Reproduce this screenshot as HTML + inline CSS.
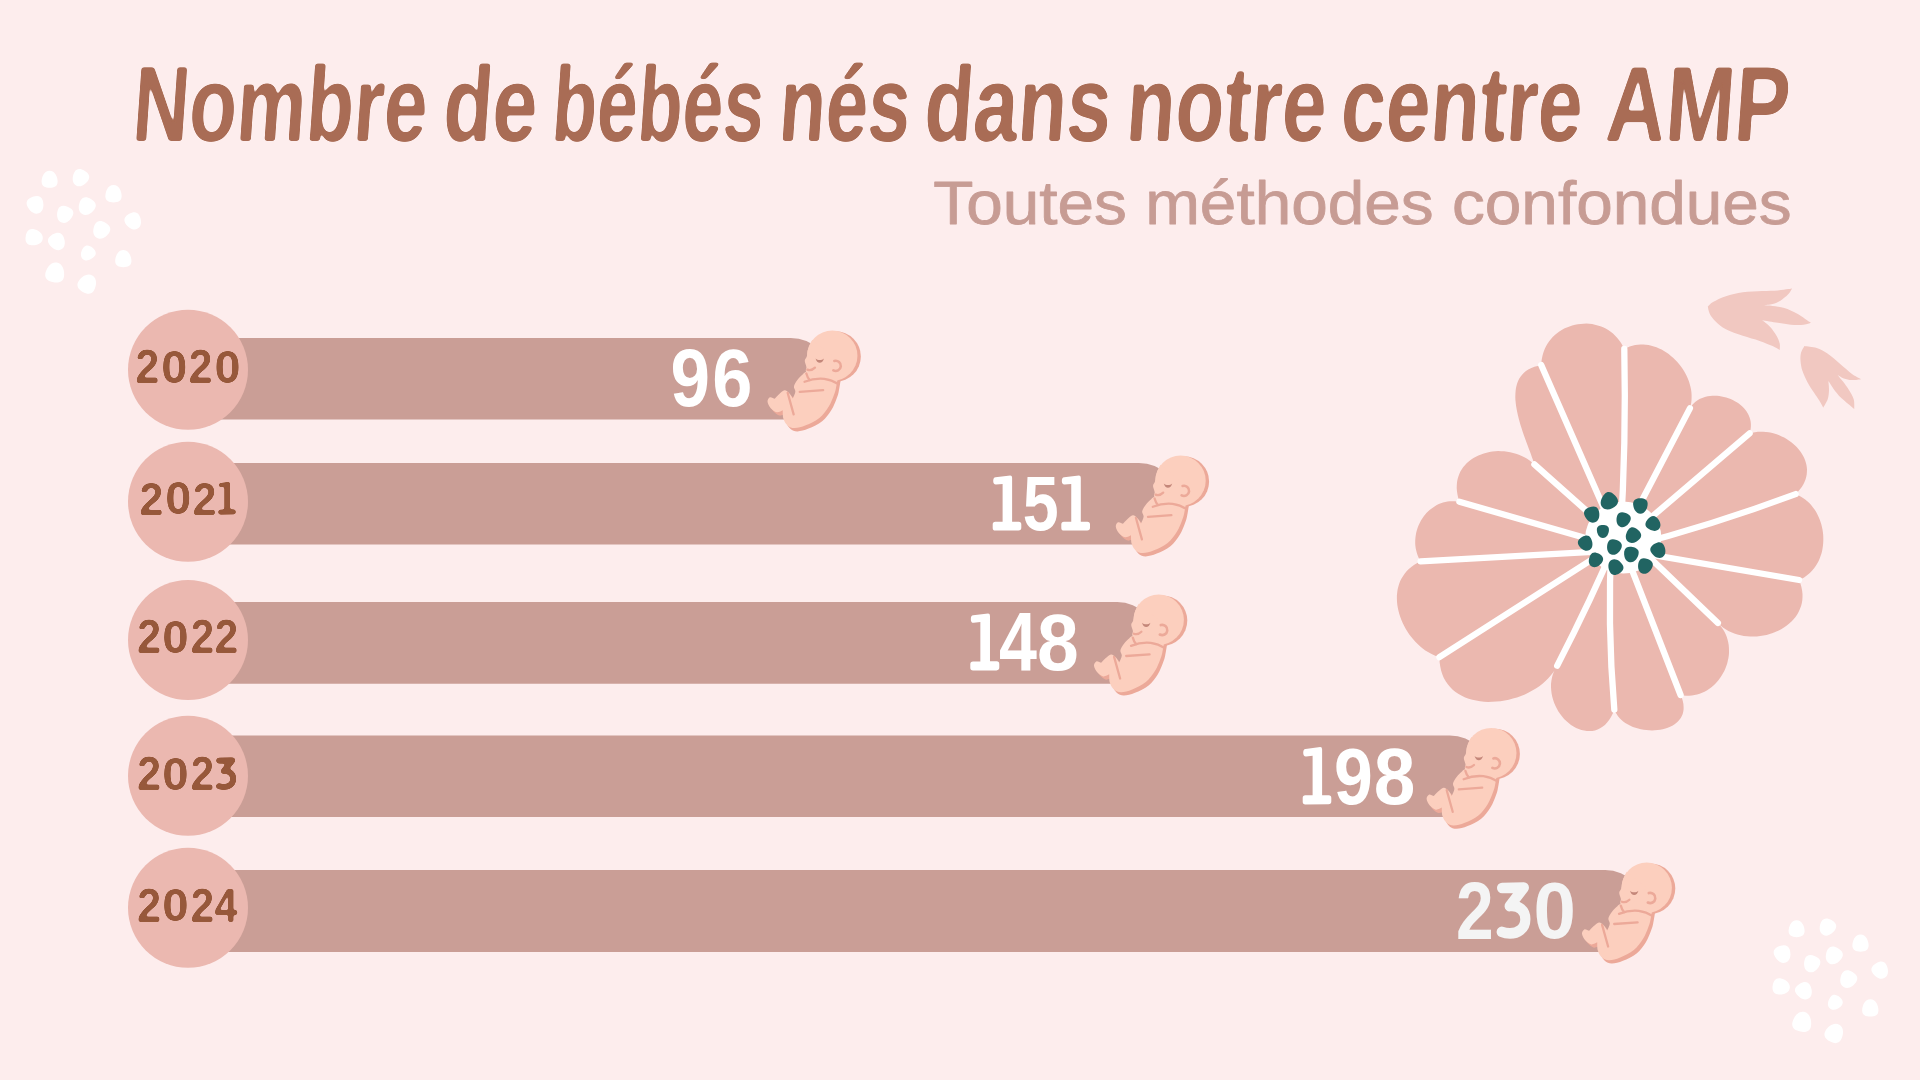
<!DOCTYPE html>
<html><head><meta charset="utf-8"><style>
html,body{margin:0;padding:0;width:1920px;height:1080px;overflow:hidden;background:#fdeded;}
svg{display:block;}
</style></head><body>
<svg width="1920" height="1080" viewBox="0 0 1920 1080">
<rect width="1920" height="1080" fill="#fdeded"/>
<defs><g id="baby">
<g fill="#eca999" transform="translate(1.9 -0.5)"><circle cx="65.0" cy="27.0" r="25.2"/></g>
<g fill="#eca999" transform="translate(1.3 2.0)"><path d="M70.50 49.00 C70.18 50.83 69.28 57.00 68.60 60.00 C67.92 63.00 67.58 64.03 66.40 67.00 C65.22 69.97 63.88 74.08 61.50 77.80 C59.12 81.52 55.93 86.17 52.10 89.30 C48.27 92.43 42.60 94.92 38.50 96.60 C34.40 98.28 30.50 99.33 27.50 99.40 C24.50 99.47 22.38 98.57 20.50 97.00 C18.62 95.43 17.03 92.58 16.20 90.00 C15.37 87.42 15.62 82.92 15.50 81.50 C14.50 81.85 11.50 83.93 9.50 83.60 C7.50 83.27 5.03 81.27 3.50 79.50 C1.97 77.73 0.45 74.82 0.30 73.00 C0.15 71.18 1.42 69.10 2.60 68.60 C3.78 68.10 6.60 69.77 7.40 70.00 C8.13 69.25 10.15 66.90 11.80 65.50 C13.45 64.10 15.60 61.77 17.30 61.60 C19.00 61.43 20.63 63.13 22.00 64.50 C23.37 65.87 24.92 68.92 25.50 69.80 C25.93 68.67 27.90 65.05 28.10 63.00 C28.30 60.95 26.33 59.50 26.70 57.50 C27.07 55.50 28.90 52.92 30.30 51.00 C31.70 49.08 34.30 46.83 35.10 46.00 C35.75 45.50 36.85 43.67 39.00 43.00 C41.15 42.33 44.17 41.83 48.00 42.00 C51.83 42.17 58.25 42.83 62.00 44.00 C65.75 45.17 69.08 48.17 70.50 49.00 Z"/></g>
<g fill="#fccfbe" transform="translate(-1.5 -1.3)"><path d="M70.50 49.00 C70.18 50.83 69.28 57.00 68.60 60.00 C67.92 63.00 67.58 64.03 66.40 67.00 C65.22 69.97 63.88 74.08 61.50 77.80 C59.12 81.52 55.93 86.17 52.10 89.30 C48.27 92.43 42.60 94.92 38.50 96.60 C34.40 98.28 30.50 99.33 27.50 99.40 C24.50 99.47 22.38 98.57 20.50 97.00 C18.62 95.43 17.03 92.58 16.20 90.00 C15.37 87.42 15.62 82.92 15.50 81.50 C14.50 81.85 11.50 83.93 9.50 83.60 C7.50 83.27 5.03 81.27 3.50 79.50 C1.97 77.73 0.45 74.82 0.30 73.00 C0.15 71.18 1.42 69.10 2.60 68.60 C3.78 68.10 6.60 69.77 7.40 70.00 C8.13 69.25 10.15 66.90 11.80 65.50 C13.45 64.10 15.60 61.77 17.30 61.60 C19.00 61.43 20.63 63.13 22.00 64.50 C23.37 65.87 24.92 68.92 25.50 69.80 C25.93 68.67 27.90 65.05 28.10 63.00 C28.30 60.95 26.33 59.50 26.70 57.50 C27.07 55.50 28.90 52.92 30.30 51.00 C31.70 49.08 34.30 46.83 35.10 46.00 C35.75 45.50 36.85 43.67 39.00 43.00 C41.15 42.33 44.17 41.83 48.00 42.00 C51.83 42.17 58.25 42.83 62.00 44.00 C65.75 45.17 69.08 48.17 70.50 49.00 Z"/><circle cx="65.0" cy="27.0" r="25.2"/><path d="M45 11 C44.33 12.50 41.90 17.25 41.00 20.00 C40.10 22.75 40.17 25.58 39.60 27.50 C39.03 29.42 37.83 30.25 37.60 31.50 C37.37 32.75 37.93 33.83 38.20 35.00 C38.47 36.17 39.13 37.25 39.20 38.50 C39.27 39.75 38.13 41.25 38.60 42.50 C39.07 43.75 40.10 45.75 42.00 46.00 C43.90 46.25 48.67 44.33 50.00 44.00 L65.0 27.0 Z"/></g>
<g fill="none" stroke="#eca999" stroke-width="2.3" stroke-linecap="round">
<path d="M65.6 31 A5.1 5.1 0 1 1 64.6 40.4" stroke-width="2.6"/>
<path d="M38.6 39.6 Q42.5 41.2 46.2 37.6"/>
<path d="M35.8 51.8 Q46 47.8 55.5 48.8 Q63 49.8 69.5 54"/>
<path d="M31 61.9 L54.4 60.2"/>
<path d="M18.9 62.8 L24.9 84.4"/>
<path d="M37.6 43.5 Q38.6 47.5 41 50"/>
</g>
<path d="M46.8 28.6 C48 34.2 54 34.2 55.2 28.6 C53 30.6 49 30.6 46.8 28.6 Z" fill="#c4877a"/>
</g></defs>
<g fill="#ffffff"><path d="M0 -0.53 C0.34 -0.53 0.5 -0.14 0.5 0.13 C0.5 0.4 0.28 0.5 0 0.5 C-0.28 0.5 -0.5 0.4 -0.5 0.13 C-0.5 -0.14 -0.34 -0.53 0 -0.53 Z" transform="translate(49.6 179.6) rotate(0) scale(16.00 16.50)"/><path d="M0 -0.53 C0.34 -0.53 0.5 -0.14 0.5 0.13 C0.5 0.4 0.28 0.5 0 0.5 C-0.28 0.5 -0.5 0.4 -0.5 0.13 C-0.5 -0.14 -0.34 -0.53 0 -0.53 Z" transform="translate(80.4 177.9) rotate(210) scale(16.00 16.50)"/><path d="M0 -0.53 C0.34 -0.53 0.5 -0.14 0.5 0.13 C0.5 0.4 0.28 0.5 0 0.5 C-0.28 0.5 -0.5 0.4 -0.5 0.13 C-0.5 -0.14 -0.34 -0.53 0 -0.53 Z" transform="translate(113.5 194.0) rotate(0) scale(16.25 16.75)"/><path d="M0 -0.53 C0.34 -0.53 0.5 -0.14 0.5 0.13 C0.5 0.4 0.28 0.5 0 0.5 C-0.28 0.5 -0.5 0.4 -0.5 0.13 C-0.5 -0.14 -0.34 -0.53 0 -0.53 Z" transform="translate(35.6 204.8) rotate(160) scale(16.49 17.00)"/><path d="M0 -0.53 C0.34 -0.53 0.5 -0.14 0.5 0.13 C0.5 0.4 0.28 0.5 0 0.5 C-0.28 0.5 -0.5 0.4 -0.5 0.13 C-0.5 -0.14 -0.34 -0.53 0 -0.53 Z" transform="translate(64.7 214.4) rotate(200) scale(16.00 16.50)"/><path d="M0 -0.53 C0.34 -0.53 0.5 -0.14 0.5 0.13 C0.5 0.4 0.28 0.5 0 0.5 C-0.28 0.5 -0.5 0.4 -0.5 0.13 C-0.5 -0.14 -0.34 -0.53 0 -0.53 Z" transform="translate(86.7 206.3) rotate(210) scale(16.49 17.00)"/><path d="M0 -0.53 C0.34 -0.53 0.5 -0.14 0.5 0.13 C0.5 0.4 0.28 0.5 0 0.5 C-0.28 0.5 -0.5 0.4 -0.5 0.13 C-0.5 -0.14 -0.34 -0.53 0 -0.53 Z" transform="translate(133.3 221.0) rotate(150) scale(16.00 16.50)"/><path d="M0 -0.53 C0.34 -0.53 0.5 -0.14 0.5 0.13 C0.5 0.4 0.28 0.5 0 0.5 C-0.28 0.5 -0.5 0.4 -0.5 0.13 C-0.5 -0.14 -0.34 -0.53 0 -0.53 Z" transform="translate(101.2 230.0) rotate(210) scale(16.49 17.00)"/><path d="M0 -0.53 C0.34 -0.53 0.5 -0.14 0.5 0.13 C0.5 0.4 0.28 0.5 0 0.5 C-0.28 0.5 -0.5 0.4 -0.5 0.13 C-0.5 -0.14 -0.34 -0.53 0 -0.53 Z" transform="translate(34.0 237.4) rotate(100) scale(16.25 16.75)"/><path d="M0 -0.53 C0.34 -0.53 0.5 -0.14 0.5 0.13 C0.5 0.4 0.28 0.5 0 0.5 C-0.28 0.5 -0.5 0.4 -0.5 0.13 C-0.5 -0.14 -0.34 -0.53 0 -0.53 Z" transform="translate(57.0 241.6) rotate(150) scale(16.25 16.75)"/><path d="M0 -0.53 C0.34 -0.53 0.5 -0.14 0.5 0.13 C0.5 0.4 0.28 0.5 0 0.5 C-0.28 0.5 -0.5 0.4 -0.5 0.13 C-0.5 -0.14 -0.34 -0.53 0 -0.53 Z" transform="translate(87.9 253.3) rotate(220) scale(14.06 14.50)"/><path d="M0 -0.53 C0.34 -0.53 0.5 -0.14 0.5 0.13 C0.5 0.4 0.28 0.5 0 0.5 C-0.28 0.5 -0.5 0.4 -0.5 0.13 C-0.5 -0.14 -0.34 -0.53 0 -0.53 Z" transform="translate(123.3 258.9) rotate(0) scale(16.25 16.75)"/><path d="M0 -0.53 C0.34 -0.53 0.5 -0.14 0.5 0.13 C0.5 0.4 0.28 0.5 0 0.5 C-0.28 0.5 -0.5 0.4 -0.5 0.13 C-0.5 -0.14 -0.34 -0.53 0 -0.53 Z" transform="translate(55.1 272.7) rotate(10) scale(18.91 19.50)"/><path d="M0 -0.53 C0.34 -0.53 0.5 -0.14 0.5 0.13 C0.5 0.4 0.28 0.5 0 0.5 C-0.28 0.5 -0.5 0.4 -0.5 0.13 C-0.5 -0.14 -0.34 -0.53 0 -0.53 Z" transform="translate(87.4 284.0) rotate(30) scale(17.95 18.50)"/></g>
<g fill="#ffffff"><path d="M0 -0.53 C0.34 -0.53 0.5 -0.14 0.5 0.13 C0.5 0.4 0.28 0.5 0 0.5 C-0.28 0.5 -0.5 0.4 -0.5 0.13 C-0.5 -0.14 -0.34 -0.53 0 -0.53 Z" transform="translate(1796.6 928.9) rotate(0) scale(16.00 16.50)"/><path d="M0 -0.53 C0.34 -0.53 0.5 -0.14 0.5 0.13 C0.5 0.4 0.28 0.5 0 0.5 C-0.28 0.5 -0.5 0.4 -0.5 0.13 C-0.5 -0.14 -0.34 -0.53 0 -0.53 Z" transform="translate(1827.4 927.2) rotate(210) scale(16.00 16.50)"/><path d="M0 -0.53 C0.34 -0.53 0.5 -0.14 0.5 0.13 C0.5 0.4 0.28 0.5 0 0.5 C-0.28 0.5 -0.5 0.4 -0.5 0.13 C-0.5 -0.14 -0.34 -0.53 0 -0.53 Z" transform="translate(1860.5 943.3) rotate(0) scale(16.25 16.75)"/><path d="M0 -0.53 C0.34 -0.53 0.5 -0.14 0.5 0.13 C0.5 0.4 0.28 0.5 0 0.5 C-0.28 0.5 -0.5 0.4 -0.5 0.13 C-0.5 -0.14 -0.34 -0.53 0 -0.53 Z" transform="translate(1782.6 954.1) rotate(160) scale(16.49 17.00)"/><path d="M0 -0.53 C0.34 -0.53 0.5 -0.14 0.5 0.13 C0.5 0.4 0.28 0.5 0 0.5 C-0.28 0.5 -0.5 0.4 -0.5 0.13 C-0.5 -0.14 -0.34 -0.53 0 -0.53 Z" transform="translate(1811.7 963.7) rotate(200) scale(16.00 16.50)"/><path d="M0 -0.53 C0.34 -0.53 0.5 -0.14 0.5 0.13 C0.5 0.4 0.28 0.5 0 0.5 C-0.28 0.5 -0.5 0.4 -0.5 0.13 C-0.5 -0.14 -0.34 -0.53 0 -0.53 Z" transform="translate(1833.7 955.6) rotate(210) scale(16.49 17.00)"/><path d="M0 -0.53 C0.34 -0.53 0.5 -0.14 0.5 0.13 C0.5 0.4 0.28 0.5 0 0.5 C-0.28 0.5 -0.5 0.4 -0.5 0.13 C-0.5 -0.14 -0.34 -0.53 0 -0.53 Z" transform="translate(1880.3 970.3) rotate(150) scale(16.00 16.50)"/><path d="M0 -0.53 C0.34 -0.53 0.5 -0.14 0.5 0.13 C0.5 0.4 0.28 0.5 0 0.5 C-0.28 0.5 -0.5 0.4 -0.5 0.13 C-0.5 -0.14 -0.34 -0.53 0 -0.53 Z" transform="translate(1848.2 979.3) rotate(210) scale(16.49 17.00)"/><path d="M0 -0.53 C0.34 -0.53 0.5 -0.14 0.5 0.13 C0.5 0.4 0.28 0.5 0 0.5 C-0.28 0.5 -0.5 0.4 -0.5 0.13 C-0.5 -0.14 -0.34 -0.53 0 -0.53 Z" transform="translate(1781.0 986.7) rotate(100) scale(16.25 16.75)"/><path d="M0 -0.53 C0.34 -0.53 0.5 -0.14 0.5 0.13 C0.5 0.4 0.28 0.5 0 0.5 C-0.28 0.5 -0.5 0.4 -0.5 0.13 C-0.5 -0.14 -0.34 -0.53 0 -0.53 Z" transform="translate(1804.0 990.9) rotate(150) scale(16.25 16.75)"/><path d="M0 -0.53 C0.34 -0.53 0.5 -0.14 0.5 0.13 C0.5 0.4 0.28 0.5 0 0.5 C-0.28 0.5 -0.5 0.4 -0.5 0.13 C-0.5 -0.14 -0.34 -0.53 0 -0.53 Z" transform="translate(1834.9 1002.6) rotate(220) scale(14.06 14.50)"/><path d="M0 -0.53 C0.34 -0.53 0.5 -0.14 0.5 0.13 C0.5 0.4 0.28 0.5 0 0.5 C-0.28 0.5 -0.5 0.4 -0.5 0.13 C-0.5 -0.14 -0.34 -0.53 0 -0.53 Z" transform="translate(1870.3 1008.2) rotate(0) scale(16.25 16.75)"/><path d="M0 -0.53 C0.34 -0.53 0.5 -0.14 0.5 0.13 C0.5 0.4 0.28 0.5 0 0.5 C-0.28 0.5 -0.5 0.4 -0.5 0.13 C-0.5 -0.14 -0.34 -0.53 0 -0.53 Z" transform="translate(1802.1 1022.0) rotate(10) scale(18.91 19.50)"/><path d="M0 -0.53 C0.34 -0.53 0.5 -0.14 0.5 0.13 C0.5 0.4 0.28 0.5 0 0.5 C-0.28 0.5 -0.5 0.4 -0.5 0.13 C-0.5 -0.14 -0.34 -0.53 0 -0.53 Z" transform="translate(1834.4 1033.3) rotate(30) scale(17.95 18.50)"/></g>
<defs><filter id="soft" x="-5%" y="-20%" width="110%" height="140%"><feGaussianBlur stdDeviation="1.6"/><feComponentTransfer><feFuncA type="linear" slope="5" intercept="-2.1"/></feComponentTransfer></filter><filter id="soft2" x="-10%" y="-10%" width="120%" height="120%"><feGaussianBlur stdDeviation="1.0"/><feComponentTransfer><feFuncA type="linear" slope="5" intercept="-2.1"/></feComponentTransfer></filter></defs>
<g filter="url(#soft)"><text transform="translate(130.92 140.80) skewX(-4) scale(0.7287 1)" font-family="Liberation Sans" font-weight="bold" font-style="normal" font-size="107" fill="#a96c54" stroke="#a96c54" stroke-width="0.0" stroke-linejoin="round">Nombre</text><text transform="translate(441.48 140.80) skewX(-4) scale(0.7519 1)" font-family="Liberation Sans" font-weight="bold" font-style="normal" font-size="107" fill="#a96c54" stroke="#a96c54" stroke-width="0.0" stroke-linejoin="round">de</text><text transform="translate(550.20 140.80) skewX(-4) scale(0.6850 1)" font-family="Liberation Sans" font-weight="bold" font-style="normal" font-size="107" fill="#a96c54" stroke="#a96c54" stroke-width="0.0" stroke-linejoin="round">bébés</text><text transform="translate(777.13 140.80) skewX(-4) scale(0.7121 1)" font-family="Liberation Sans" font-weight="bold" font-style="normal" font-size="107" fill="#a96c54" stroke="#a96c54" stroke-width="0.0" stroke-linejoin="round">nés</text><text transform="translate(922.50 140.80) skewX(-4) scale(0.7485 1)" font-family="Liberation Sans" font-weight="bold" font-style="normal" font-size="107" fill="#a96c54" stroke="#a96c54" stroke-width="0.0" stroke-linejoin="round">dans</text><text transform="translate(1124.60 140.80) skewX(-4) scale(0.7469 1)" font-family="Liberation Sans" font-weight="bold" font-style="normal" font-size="107" fill="#a96c54" stroke="#a96c54" stroke-width="0.0" stroke-linejoin="round">notre</text><text transform="translate(1339.08 140.80) skewX(-4) scale(0.7518 1)" font-family="Liberation Sans" font-weight="bold" font-style="normal" font-size="107" fill="#a96c54" stroke="#a96c54" stroke-width="0.0" stroke-linejoin="round">centre</text><text transform="translate(1604.15 140.80) skewX(-4) scale(0.7718 1)" font-family="Liberation Sans" font-weight="bold" font-style="normal" font-size="107" fill="#a96c54" stroke="#a96c54" stroke-width="0.0" stroke-linejoin="round">AMP</text></g>
<text transform="translate(933.29 223.80) scale(1.0774 1)" font-family="Liberation Sans" font-weight="normal" font-style="normal" font-size="61" fill="#c79c94" stroke="#c79c94" stroke-width="0.8" stroke-linejoin="round">Toutes méthodes confondues</text>
<path d="M188 338.0 H790.75 A40.80 40.80 0 0 1 790.75 419.6 H188 Z" fill="#ca9e96"/>
<path d="M188 463.0 H1139.00 A40.80 40.80 0 0 1 1139.00 544.6 H188 Z" fill="#ca9e96"/>
<path d="M188 602.1 H1117.20 A40.85 40.85 0 0 1 1117.20 683.8 H188 Z" fill="#ca9e96"/>
<path d="M188 735.4 H1449.80 A40.80 40.80 0 0 1 1449.80 817.0 H188 Z" fill="#ca9e96"/>
<path d="M188 870.1 H1605.20 A40.95 40.95 0 0 1 1605.20 952.0 H188 Z" fill="#ca9e96"/>
<circle cx="188" cy="369.7" r="60" fill="#ebb8b0"/>
<circle cx="188" cy="501.8" r="60" fill="#ebb8b0"/>
<circle cx="188" cy="640.0" r="60" fill="#ebb8b0"/>
<circle cx="188" cy="775.8" r="60" fill="#ebb8b0"/>
<circle cx="188" cy="907.8" r="60" fill="#ebb8b0"/>
<g filter="url(#soft2)"><text transform="translate(135.30 383.10) scale(0.9150 1)" font-family="Liberation Sans" font-weight="bold" font-style="normal" font-size="47.28571428571432" fill="#97593b">2</text><text transform="translate(161.22 382.63) scale(1.0055 1)" font-family="Liberation Sans" font-weight="bold" font-style="normal" font-size="46.61971830985919" fill="#97593b">0</text><text transform="translate(188.40 383.10) scale(0.9150 1)" font-family="Liberation Sans" font-weight="bold" font-style="normal" font-size="47.28571428571432" fill="#97593b">2</text><text transform="translate(214.38 382.63) scale(1.0055 1)" font-family="Liberation Sans" font-weight="bold" font-style="normal" font-size="46.61971830985919" fill="#97593b">0</text><text transform="translate(139.30 514.70) scale(0.9277 1)" font-family="Liberation Sans" font-weight="bold" font-style="normal" font-size="46.857142857142954" fill="#97593b">2</text><text transform="translate(165.32 514.24) scale(1.0147 1)" font-family="Liberation Sans" font-weight="bold" font-style="normal" font-size="46.197183098591644" fill="#97593b">0</text><text transform="translate(192.45 514.70) scale(0.9255 1)" font-family="Liberation Sans" font-weight="bold" font-style="normal" font-size="46.857142857142954" fill="#97593b">2</text><path d="M2.7 1.6 L17 -0.2 Q18.8 -0.2 18.8 2 L18.8 44.9 L25.2 44.9 Q27.7 44.9 27.7 47.6 L27.7 50.8 Q27.7 53.4 25 53.4 L2.6 53.6 Q0 53.6 0 51 L0 47.6 Q0 45 2.6 45 L9.6 45 L9.6 8 L3.3 8.6 Q0.5 8.8 0.5 5.2 Q0.5 1.9 2.7 1.6 Z" fill="#97593b" transform="translate(218.10 481.90) scale(0.6426 0.6119)"/><text transform="translate(137.10 653.10) scale(0.9193 1)" font-family="Liberation Sans" font-weight="bold" font-style="normal" font-size="47.28571428571432" fill="#97593b">2</text><text transform="translate(162.20 652.63) scale(1.0189 1)" font-family="Liberation Sans" font-weight="bold" font-style="normal" font-size="46.61971830985919" fill="#97593b">0</text><text transform="translate(190.62 653.10) scale(0.9020 1)" font-family="Liberation Sans" font-weight="bold" font-style="normal" font-size="47.28571428571432" fill="#97593b">2</text><text transform="translate(214.61 653.10) scale(0.9063 1)" font-family="Liberation Sans" font-weight="bold" font-style="normal" font-size="47.28571428571432" fill="#97593b">2</text><text transform="translate(137.10 790.00) scale(0.9193 1)" font-family="Liberation Sans" font-weight="bold" font-style="normal" font-size="47.28571428571432" fill="#97593b">2</text><text transform="translate(162.20 789.53) scale(1.0189 1)" font-family="Liberation Sans" font-weight="bold" font-style="normal" font-size="46.61971830985919" fill="#97593b">0</text><text transform="translate(190.62 790.00) scale(0.9020 1)" font-family="Liberation Sans" font-weight="bold" font-style="normal" font-size="47.28571428571432" fill="#97593b">2</text><path d="M3.2 3.7 L16.4 3.5 L7.8 14.2 C13.5 13.6 17.3 16.8 17.3 21.8 C17.3 27.6 12.5 30.1 8 30.1 C6 30.1 4.2 29.7 3 29.2" fill="none" stroke="#97593b" stroke-width="6.2" stroke-linecap="round" stroke-linejoin="round" transform="translate(215.90 756.90) scale(1.0025 1.0000)"/><text transform="translate(137.10 921.90) scale(0.9179 1)" font-family="Liberation Sans" font-weight="bold" font-style="normal" font-size="47.357142857142826" fill="#97593b">2</text><text transform="translate(162.20 921.43) scale(1.0173 1)" font-family="Liberation Sans" font-weight="bold" font-style="normal" font-size="46.69014084507039" fill="#97593b">0</text><text transform="translate(190.62 921.90) scale(0.9007 1)" font-family="Liberation Sans" font-weight="bold" font-style="normal" font-size="47.357142857142826" fill="#97593b">2</text><text transform="translate(214.59 921.90) scale(0.8629 1)" font-family="Liberation Sans" font-weight="bold" font-style="normal" font-size="48.043478260869534" fill="#97593b">4</text></g>
<g filter="url(#soft3)"><text transform="translate(670.47 405.94) scale(0.8808 1)" font-family="Liberation Sans" font-weight="bold" font-style="normal" font-size="80.63380281690141" fill="#ffffff">9</text><text transform="translate(712.33 405.94) scale(0.8960 1)" font-family="Liberation Sans" font-weight="bold" font-style="normal" font-size="80.63380281690141" fill="#ffffff">6</text><path d="M2.7 1.6 L17 -0.2 Q18.8 -0.2 18.8 2 L18.8 44.9 L25.2 44.9 Q27.7 44.9 27.7 47.6 L27.7 50.8 Q27.7 53.4 25 53.4 L2.6 53.6 Q0 53.6 0 51 L0 47.6 Q0 45 2.6 45 L9.6 45 L9.6 8 L3.3 8.6 Q0.5 8.8 0.5 5.2 Q0.5 1.9 2.7 1.6 Z" fill="#ffffff" transform="translate(992.70 475.70) scale(1.0325 1.0243)"/><text transform="translate(1022.86 529.82) scale(0.8237 1)" font-family="Liberation Sans" font-weight="bold" font-style="normal" font-size="78.42857142857149" fill="#ffffff">5</text><path d="M2.7 1.6 L17 -0.2 Q18.8 -0.2 18.8 2 L18.8 44.9 L25.2 44.9 Q27.7 44.9 27.7 47.6 L27.7 50.8 Q27.7 53.4 25 53.4 L2.6 53.6 Q0 53.6 0 51 L0 47.6 Q0 45 2.6 45 L9.6 45 L9.6 8 L3.3 8.6 Q0.5 8.8 0.5 5.2 Q0.5 1.9 2.7 1.6 Z" fill="#ffffff" transform="translate(1061.30 475.70) scale(1.0361 1.0243)"/><path d="M2.7 1.6 L17 -0.2 Q18.8 -0.2 18.8 2 L18.8 44.9 L25.2 44.9 Q27.7 44.9 27.7 47.6 L27.7 50.8 Q27.7 53.4 25 53.4 L2.6 53.6 Q0 53.6 0 51 L0 47.6 Q0 45 2.6 45 L9.6 45 L9.6 8 L3.3 8.6 Q0.5 8.8 0.5 5.2 Q0.5 1.9 2.7 1.6 Z" fill="#ffffff" transform="translate(970.30 613.60) scale(1.0469 1.0634)"/><text transform="translate(998.92 670.60) scale(0.8254 1)" font-family="Liberation Sans" font-weight="bold" font-style="normal" font-size="82.6086956521739" fill="#ffffff">4</text><text transform="translate(1037.05 669.80) scale(0.9342 1)" font-family="Liberation Sans" font-weight="bold" font-style="normal" font-size="80.28169014084507" fill="#ffffff">8</text><path d="M2.7 1.6 L17 -0.2 Q18.8 -0.2 18.8 2 L18.8 44.9 L25.2 44.9 Q27.7 44.9 27.7 47.6 L27.7 50.8 Q27.7 53.4 25 53.4 L2.6 53.6 Q0 53.6 0 51 L0 47.6 Q0 45 2.6 45 L9.6 45 L9.6 8 L3.3 8.6 Q0.5 8.8 0.5 5.2 Q0.5 1.9 2.7 1.6 Z" fill="#ffffff" transform="translate(1302.70 747.30) scale(1.0325 1.0672)"/><text transform="translate(1334.01 803.69) scale(0.8663 1)" font-family="Liberation Sans" font-weight="bold" font-style="normal" font-size="80.5633802816902" fill="#ffffff">9</text><text transform="translate(1373.66 803.69) scale(0.9285 1)" font-family="Liberation Sans" font-weight="bold" font-style="normal" font-size="80.5633802816902" fill="#ffffff">8</text><text transform="translate(1456.07 938.60) scale(0.8321 1)" font-family="Liberation Sans" font-weight="bold" font-style="normal" font-size="81.42857142857143" fill="#f4f4f4">2</text><path d="M3.2 3.7 L16.4 3.5 L7.8 14.2 C13.5 13.6 17.3 16.8 17.3 21.8 C17.3 27.6 12.5 30.1 8 30.1 C6 30.1 4.2 29.7 3 29.2" fill="none" stroke="#f4f4f4" stroke-width="6.2" stroke-linecap="round" stroke-linejoin="round" transform="translate(1496.80 881.60) scale(1.6502 1.7221)"/><text transform="translate(1533.45 937.80) scale(0.9498 1)" font-family="Liberation Sans" font-weight="bold" font-style="normal" font-size="80.28169014084507" fill="#f4f4f4">0</text></g>
<use href="#baby" transform="translate(768.75 330.00)"/>
<use href="#baby" transform="translate(1117.00 455.00)"/>
<use href="#baby" transform="translate(1095.20 594.10)"/>
<use href="#baby" transform="translate(1427.80 727.40)"/>
<use href="#baby" transform="translate(1583.20 862.10)"/>
<path d="M1541.2 365.1 L1541.4 361.7 L1541.9 358.4 L1542.6 355.2 L1543.5 352.2 L1544.6 349.3 L1545.9 346.6 L1547.3 344.0 L1549.0 341.5 L1550.8 339.2 L1552.7 337.1 L1554.8 335.1 L1557.0 333.2 L1559.3 331.5 L1561.7 330.0 L1564.2 328.6 L1566.8 327.4 L1569.5 326.4 L1572.2 325.5 L1575.0 324.8 L1577.8 324.2 L1580.6 323.9 L1583.5 323.7 L1586.4 323.6 L1589.2 323.8 L1592.1 324.1 L1594.9 324.7 L1597.7 325.4 L1600.4 326.3 L1603.1 327.3 L1605.7 328.6 L1608.2 330.1 L1610.7 331.7 L1613.0 333.6 L1615.2 335.7 L1617.3 337.9 L1619.3 340.4 L1621.1 343.0 L1622.8 345.9 L1624.3 349.0 L1627.0 347.7 L1629.7 346.6 L1632.4 345.7 L1635.1 345.1 L1637.8 344.7 L1640.5 344.5 L1643.2 344.5 L1646.0 344.7 L1648.6 345.1 L1651.3 345.7 L1653.9 346.4 L1656.5 347.3 L1659.1 348.4 L1661.6 349.6 L1664.0 351.0 L1666.4 352.5 L1668.7 354.1 L1670.9 355.9 L1673.1 357.7 L1675.1 359.7 L1677.1 361.8 L1679.0 364.0 L1680.8 366.3 L1682.4 368.6 L1684.0 371.0 L1685.4 373.5 L1686.7 376.0 L1687.8 378.6 L1688.9 381.3 L1689.7 383.9 L1690.4 386.6 L1691.0 389.3 L1691.4 392.1 L1691.6 394.8 L1691.6 397.6 L1691.5 400.3 L1691.2 403.0 L1690.6 405.7 L1689.9 408.4 L1691.2 406.4 L1692.6 404.6 L1694.1 403.0 L1695.8 401.5 L1697.6 400.3 L1699.5 399.1 L1701.5 398.2 L1703.5 397.4 L1705.7 396.8 L1707.8 396.3 L1710.1 395.9 L1712.3 395.8 L1714.6 395.7 L1717.0 395.8 L1719.3 396.0 L1721.6 396.4 L1723.9 396.9 L1726.2 397.5 L1728.4 398.2 L1730.6 399.1 L1732.8 400.1 L1734.9 401.2 L1736.8 402.3 L1738.8 403.6 L1740.6 405.0 L1742.3 406.5 L1743.8 408.1 L1745.3 409.8 L1746.6 411.6 L1747.8 413.4 L1748.8 415.4 L1749.6 417.4 L1750.2 419.5 L1750.7 421.7 L1750.9 423.9 L1750.9 426.2 L1750.7 428.5 L1750.3 430.9 L1749.6 433.4 L1752.3 432.7 L1755.0 432.2 L1757.7 431.8 L1760.5 431.7 L1763.2 431.7 L1766.0 431.9 L1768.7 432.3 L1771.4 432.8 L1774.1 433.5 L1776.7 434.3 L1779.2 435.3 L1781.7 436.4 L1784.2 437.6 L1786.6 439.0 L1788.8 440.4 L1791.0 442.0 L1793.1 443.7 L1795.1 445.5 L1796.9 447.3 L1798.6 449.3 L1800.2 451.3 L1801.7 453.4 L1802.9 455.6 L1804.1 457.8 L1805.0 460.1 L1805.8 462.4 L1806.4 464.8 L1806.8 467.2 L1807.0 469.6 L1806.9 472.1 L1806.7 474.6 L1806.2 477.0 L1805.5 479.5 L1804.5 482.0 L1803.3 484.5 L1801.8 486.9 L1800.0 489.3 L1797.9 491.7 L1795.6 494.1 L1798.2 495.2 L1800.6 496.5 L1803.0 497.9 L1805.2 499.5 L1807.3 501.2 L1809.3 503.1 L1811.1 505.1 L1812.8 507.2 L1814.4 509.3 L1815.9 511.6 L1817.2 514.0 L1818.4 516.5 L1819.5 519.0 L1820.4 521.5 L1821.3 524.2 L1821.9 526.8 L1822.5 529.6 L1822.9 532.3 L1823.2 535.0 L1823.3 537.8 L1823.3 540.5 L1823.2 543.3 L1822.9 546.0 L1822.5 548.7 L1822.0 551.4 L1821.3 554.0 L1820.4 556.6 L1819.5 559.1 L1818.4 561.5 L1817.1 563.8 L1815.7 566.1 L1814.1 568.3 L1812.4 570.3 L1810.6 572.3 L1808.6 574.1 L1806.4 575.8 L1804.1 577.4 L1801.7 578.8 L1799.1 580.0 L1800.4 583.6 L1801.4 587.1 L1802.1 590.6 L1802.5 593.9 L1802.5 597.2 L1802.3 600.3 L1801.8 603.3 L1801.0 606.3 L1799.9 609.1 L1798.7 611.8 L1797.2 614.4 L1795.5 616.9 L1793.6 619.2 L1791.5 621.4 L1789.2 623.5 L1786.8 625.5 L1784.3 627.3 L1781.6 628.9 L1778.8 630.4 L1775.8 631.8 L1772.8 633.0 L1769.7 634.0 L1766.6 634.9 L1763.4 635.5 L1760.1 636.1 L1756.9 636.4 L1753.6 636.6 L1750.3 636.6 L1747.0 636.3 L1743.8 635.9 L1740.6 635.3 L1737.4 634.5 L1734.3 633.5 L1731.3 632.3 L1728.4 630.9 L1725.6 629.3 L1722.9 627.4 L1720.3 625.3 L1717.9 623.0 L1719.9 625.2 L1721.7 627.4 L1723.3 629.7 L1724.6 632.1 L1725.8 634.6 L1726.8 637.1 L1727.6 639.7 L1728.2 642.3 L1728.7 644.9 L1728.9 647.6 L1729.0 650.2 L1729.0 652.9 L1728.8 655.5 L1728.4 658.2 L1727.8 660.8 L1727.2 663.4 L1726.3 666.0 L1725.4 668.5 L1724.3 670.9 L1723.0 673.3 L1721.7 675.6 L1720.2 677.8 L1718.6 680.0 L1716.9 682.0 L1715.1 683.9 L1713.2 685.7 L1711.1 687.4 L1709.0 689.0 L1706.8 690.4 L1704.5 691.7 L1702.1 692.8 L1699.7 693.7 L1697.1 694.5 L1694.5 695.1 L1691.9 695.5 L1689.1 695.7 L1686.3 695.7 L1683.5 695.5 L1680.6 695.0 L1681.9 698.1 L1682.8 701.1 L1683.4 704.0 L1683.6 706.7 L1683.6 709.2 L1683.3 711.6 L1682.7 713.9 L1681.8 716.0 L1680.8 718.0 L1679.4 719.8 L1677.9 721.5 L1676.2 723.0 L1674.3 724.4 L1672.3 725.7 L1670.1 726.8 L1667.8 727.7 L1665.4 728.5 L1662.8 729.2 L1660.2 729.7 L1657.5 730.1 L1654.8 730.3 L1652.0 730.4 L1649.2 730.3 L1646.4 730.1 L1643.6 729.8 L1640.9 729.3 L1638.1 728.6 L1635.5 727.8 L1632.9 726.9 L1630.4 725.8 L1628.0 724.6 L1625.7 723.2 L1623.5 721.7 L1621.5 720.0 L1619.7 718.2 L1618.0 716.2 L1616.6 714.1 L1615.3 711.9 L1614.3 709.5 L1612.8 713.4 L1611.0 716.9 L1609.1 719.9 L1607.1 722.6 L1604.9 724.9 L1602.5 726.8 L1600.1 728.3 L1597.6 729.5 L1595.0 730.4 L1592.3 730.9 L1589.6 731.1 L1586.9 731.0 L1584.1 730.6 L1581.4 730.0 L1578.7 729.1 L1576.1 727.9 L1573.5 726.6 L1571.0 724.9 L1568.6 723.1 L1566.3 721.1 L1564.1 718.9 L1562.1 716.5 L1560.2 714.0 L1558.4 711.4 L1556.8 708.6 L1555.4 705.7 L1554.1 702.8 L1553.1 699.7 L1552.2 696.6 L1551.6 693.5 L1551.2 690.3 L1551.0 687.1 L1551.0 683.9 L1551.4 680.7 L1552.0 677.6 L1552.8 674.5 L1554.0 671.4 L1555.4 668.5 L1557.2 665.6 L1555.4 669.0 L1553.3 672.2 L1550.9 675.3 L1548.3 678.3 L1545.5 681.1 L1542.5 683.7 L1539.3 686.2 L1535.9 688.5 L1532.3 690.6 L1528.7 692.6 L1524.9 694.4 L1521.0 696.0 L1517.0 697.4 L1512.9 698.6 L1508.8 699.7 L1504.7 700.5 L1500.5 701.2 L1496.4 701.6 L1492.2 701.8 L1488.1 701.9 L1484.1 701.7 L1480.1 701.3 L1476.2 700.6 L1472.4 699.8 L1468.7 698.7 L1465.2 697.4 L1461.8 695.8 L1458.6 694.0 L1455.5 692.0 L1452.7 689.7 L1450.1 687.1 L1447.8 684.3 L1445.7 681.3 L1443.8 677.9 L1442.3 674.3 L1441.1 670.5 L1440.2 666.3 L1439.6 661.9 L1439.4 657.2 L1436.5 656.2 L1433.6 655.0 L1430.7 653.6 L1428.0 652.1 L1425.3 650.4 L1422.7 648.5 L1420.3 646.5 L1417.9 644.3 L1415.6 642.0 L1413.4 639.6 L1411.3 637.0 L1409.3 634.4 L1407.5 631.7 L1405.8 628.9 L1404.2 626.0 L1402.7 623.1 L1401.4 620.1 L1400.3 617.1 L1399.3 614.0 L1398.5 610.9 L1397.8 607.8 L1397.3 604.8 L1397.0 601.7 L1396.9 598.6 L1396.9 595.6 L1397.2 592.6 L1397.6 589.6 L1398.3 586.7 L1399.1 583.9 L1400.2 581.1 L1401.5 578.5 L1403.1 575.9 L1404.8 573.4 L1406.8 571.1 L1409.1 568.8 L1411.6 566.8 L1414.3 564.8 L1417.3 563.0 L1420.6 561.4 L1419.4 559.3 L1418.4 557.2 L1417.5 555.0 L1416.8 552.8 L1416.2 550.6 L1415.7 548.3 L1415.4 546.1 L1415.2 543.8 L1415.2 541.6 L1415.3 539.3 L1415.5 537.1 L1415.8 534.9 L1416.2 532.7 L1416.8 530.5 L1417.4 528.4 L1418.2 526.3 L1419.1 524.2 L1420.1 522.2 L1421.1 520.3 L1422.3 518.4 L1423.6 516.6 L1425.0 514.8 L1426.4 513.1 L1428.0 511.6 L1429.6 510.1 L1431.3 508.7 L1433.1 507.4 L1434.9 506.2 L1436.8 505.1 L1438.8 504.1 L1440.9 503.3 L1443.0 502.6 L1445.2 502.0 L1447.5 501.6 L1449.7 501.3 L1452.1 501.2 L1454.5 501.2 L1456.9 501.4 L1459.4 501.7 L1458.3 498.2 L1457.5 494.8 L1457.0 491.5 L1456.7 488.3 L1456.8 485.2 L1457.0 482.2 L1457.5 479.4 L1458.3 476.7 L1459.3 474.1 L1460.4 471.6 L1461.8 469.3 L1463.3 467.0 L1465.1 465.0 L1466.9 463.0 L1469.0 461.2 L1471.2 459.6 L1473.5 458.0 L1475.9 456.7 L1478.4 455.4 L1481.1 454.4 L1483.8 453.4 L1486.6 452.7 L1489.4 452.0 L1492.3 451.6 L1495.2 451.3 L1498.2 451.1 L1501.2 451.2 L1504.2 451.3 L1507.2 451.7 L1510.2 452.2 L1513.1 452.9 L1516.0 453.7 L1518.9 454.7 L1521.7 455.9 L1524.4 457.3 L1527.1 458.8 L1529.6 460.5 L1532.1 462.4 L1534.4 464.4 L1533.7 462.2 L1532.9 459.8 L1532.0 457.4 L1531.1 454.8 L1530.1 452.1 L1529.0 449.3 L1528.0 446.5 L1526.9 443.5 L1525.8 440.5 L1524.7 437.5 L1523.6 434.4 L1522.5 431.3 L1521.5 428.1 L1520.5 424.9 L1519.6 421.7 L1518.7 418.5 L1517.9 415.3 L1517.2 412.1 L1516.6 409.0 L1516.1 405.9 L1515.7 402.8 L1515.4 399.8 L1515.3 396.8 L1515.4 393.9 L1515.6 391.1 L1515.9 388.4 L1516.5 385.7 L1517.2 383.2 L1518.2 380.8 L1519.3 378.5 L1520.7 376.4 L1522.3 374.4 L1524.2 372.5 L1526.3 370.8 L1528.7 369.3 L1531.4 368.0 L1534.4 366.8 L1537.6 365.9 L1541.2 365.1 Z" fill="#ebb8af"/>
<g stroke="#ffffff" stroke-width="6.3" stroke-linecap="round" fill="none"><path d="M1620.34 537.44 Q1626.32 443.22 1624.3 349.0"/><path d="M1622.75 537.22 Q1656.33 472.81 1689.9 408.4"/><path d="M1625.13 539.64 Q1687.37 486.52 1749.6 433.4"/><path d="M1626.37 547.27 Q1710.98 525.68 1795.6 494.1"/><path d="M1621.22 549.73 Q1710.16 564.86 1799.1 580.0"/><path d="M1625.87 534.81 Q1671.89 578.91 1717.9 623.0"/><path d="M1619.90 538.82 Q1650.25 616.91 1680.6 695.0"/><path d="M1611.65 537.68 Q1606.98 623.59 1614.3 709.5"/><path d="M1618.62 535.29 Q1590.91 600.45 1557.2 665.6"/><path d="M1624.20 538.90 Q1531.80 598.05 1439.4 657.2"/><path d="M1624.00 550.06 Q1522.30 555.73 1420.6 561.4"/><path d="M1620.29 547.97 Q1539.84 524.84 1459.4 501.7"/><path d="M1620.28 540.89 Q1577.34 502.64 1534.4 464.4"/><path d="M1617.84 539.89 Q1579.52 452.50 1541.2 365.1"/></g>
<ellipse cx="1623.3" cy="537.5" rx="38" ry="36" fill="#ffffff"/>
<g fill="#216462"><path d="M0 -0.53 C0.34 -0.53 0.5 -0.14 0.5 0.13 C0.5 0.4 0.28 0.5 0 0.5 C-0.28 0.5 -0.5 0.4 -0.5 0.13 C-0.5 -0.14 -0.34 -0.53 0 -0.53 Z" transform="translate(1608.9 501.2) rotate(225) scale(16.30 16.80)"/><path d="M0 -0.53 C0.34 -0.53 0.5 -0.14 0.5 0.13 C0.5 0.4 0.28 0.5 0 0.5 C-0.28 0.5 -0.5 0.4 -0.5 0.13 C-0.5 -0.14 -0.34 -0.53 0 -0.53 Z" transform="translate(1640.4 505.8) rotate(180) scale(14.55 15.00)"/><path d="M0 -0.53 C0.34 -0.53 0.5 -0.14 0.5 0.13 C0.5 0.4 0.28 0.5 0 0.5 C-0.28 0.5 -0.5 0.4 -0.5 0.13 C-0.5 -0.14 -0.34 -0.53 0 -0.53 Z" transform="translate(1592.2 514.6) rotate(160) scale(15.04 15.50)"/><path d="M0 -0.53 C0.34 -0.53 0.5 -0.14 0.5 0.13 C0.5 0.4 0.28 0.5 0 0.5 C-0.28 0.5 -0.5 0.4 -0.5 0.13 C-0.5 -0.14 -0.34 -0.53 0 -0.53 Z" transform="translate(1623.2 519.7) rotate(200) scale(14.06 14.50)"/><path d="M0 -0.53 C0.34 -0.53 0.5 -0.14 0.5 0.13 C0.5 0.4 0.28 0.5 0 0.5 C-0.28 0.5 -0.5 0.4 -0.5 0.13 C-0.5 -0.14 -0.34 -0.53 0 -0.53 Z" transform="translate(1653.3 523.9) rotate(130) scale(14.06 14.50)"/><path d="M0 -0.53 C0.34 -0.53 0.5 -0.14 0.5 0.13 C0.5 0.4 0.28 0.5 0 0.5 C-0.28 0.5 -0.5 0.4 -0.5 0.13 C-0.5 -0.14 -0.34 -0.53 0 -0.53 Z" transform="translate(1602.9 531.3) rotate(180) scale(12.12 12.50)"/><path d="M0 -0.53 C0.34 -0.53 0.5 -0.14 0.5 0.13 C0.5 0.4 0.28 0.5 0 0.5 C-0.28 0.5 -0.5 0.4 -0.5 0.13 C-0.5 -0.14 -0.34 -0.53 0 -0.53 Z" transform="translate(1633.0 535.5) rotate(220) scale(14.55 15.00)"/><path d="M0 -0.53 C0.34 -0.53 0.5 -0.14 0.5 0.13 C0.5 0.4 0.28 0.5 0 0.5 C-0.28 0.5 -0.5 0.4 -0.5 0.13 C-0.5 -0.14 -0.34 -0.53 0 -0.53 Z" transform="translate(1585.7 543.3) rotate(150) scale(14.06 14.50)"/><path d="M0 -0.53 C0.34 -0.53 0.5 -0.14 0.5 0.13 C0.5 0.4 0.28 0.5 0 0.5 C-0.28 0.5 -0.5 0.4 -0.5 0.13 C-0.5 -0.14 -0.34 -0.53 0 -0.53 Z" transform="translate(1614.0 547.0) rotate(200) scale(14.55 15.00)"/><path d="M0 -0.53 C0.34 -0.53 0.5 -0.14 0.5 0.13 C0.5 0.4 0.28 0.5 0 0.5 C-0.28 0.5 -0.5 0.4 -0.5 0.13 C-0.5 -0.14 -0.34 -0.53 0 -0.53 Z" transform="translate(1658.4 550.3) rotate(150) scale(14.55 15.00)"/><path d="M0 -0.53 C0.34 -0.53 0.5 -0.14 0.5 0.13 C0.5 0.4 0.28 0.5 0 0.5 C-0.28 0.5 -0.5 0.4 -0.5 0.13 C-0.5 -0.14 -0.34 -0.53 0 -0.53 Z" transform="translate(1631.1 554.4) rotate(190) scale(14.55 15.00)"/><path d="M0 -0.53 C0.34 -0.53 0.5 -0.14 0.5 0.13 C0.5 0.4 0.28 0.5 0 0.5 C-0.28 0.5 -0.5 0.4 -0.5 0.13 C-0.5 -0.14 -0.34 -0.53 0 -0.53 Z" transform="translate(1595.5 560.0) rotate(210) scale(13.82 14.25)"/><path d="M0 -0.53 C0.34 -0.53 0.5 -0.14 0.5 0.13 C0.5 0.4 0.28 0.5 0 0.5 C-0.28 0.5 -0.5 0.4 -0.5 0.13 C-0.5 -0.14 -0.34 -0.53 0 -0.53 Z" transform="translate(1615.4 567.0) rotate(330) scale(14.55 15.00)"/><path d="M0 -0.53 C0.34 -0.53 0.5 -0.14 0.5 0.13 C0.5 0.4 0.28 0.5 0 0.5 C-0.28 0.5 -0.5 0.4 -0.5 0.13 C-0.5 -0.14 -0.34 -0.53 0 -0.53 Z" transform="translate(1645.0 566.0) rotate(200) scale(14.55 15.00)"/></g>
<path d="M1707.80 306.60 C1708.67 305.83 1709.98 303.73 1713.00 302.00 C1716.02 300.27 1720.93 297.82 1725.90 296.20 C1730.87 294.58 1736.75 293.17 1742.80 292.30 C1748.85 291.43 1756.37 291.32 1762.20 291.00 C1768.03 290.68 1773.47 290.72 1777.80 290.40 C1782.13 290.08 1785.82 289.43 1788.20 289.10 C1790.58 288.77 1791.45 288.52 1792.10 288.40 C1791.45 289.38 1790.15 292.25 1788.20 294.30 C1786.25 296.35 1783.00 299.08 1780.40 300.70 C1777.80 302.32 1775.42 303.23 1772.60 304.00 C1769.78 304.77 1765.02 305.08 1763.50 305.30 C1765.02 305.40 1769.13 305.47 1772.60 305.90 C1776.07 306.33 1780.18 306.60 1784.30 307.90 C1788.42 309.20 1792.87 311.22 1797.30 313.70 C1801.73 316.18 1808.63 321.28 1810.90 322.80 C1809.70 323.12 1807.05 324.38 1803.70 324.70 C1800.35 325.02 1795.12 325.02 1790.80 324.70 C1786.48 324.38 1782.57 323.55 1777.80 322.80 C1773.03 322.05 1764.80 320.63 1762.20 320.20 C1763.50 321.28 1767.62 324.10 1770.00 326.70 C1772.38 329.30 1774.88 333.00 1776.50 335.80 C1778.12 338.60 1779.17 341.13 1779.70 343.50 C1780.23 345.87 1779.70 348.92 1779.70 350.00 C1778.52 349.35 1775.95 347.62 1772.60 346.10 C1769.25 344.58 1764.57 342.62 1759.60 340.90 C1754.63 339.18 1748.42 337.73 1742.80 335.80 C1737.18 333.87 1730.43 331.68 1725.90 329.30 C1721.37 326.92 1718.30 324.10 1715.60 321.50 C1712.90 318.90 1711.00 316.18 1709.70 313.70 C1708.40 311.22 1708.12 307.78 1707.80 306.60 Z" fill="#f1c8c1"/>
<path d="M1804.40 346.10 C1803.85 347.18 1801.75 350.22 1801.10 352.60 C1800.45 354.98 1800.28 357.37 1800.50 360.40 C1800.72 363.43 1801.22 367.13 1802.40 370.80 C1803.58 374.47 1805.65 378.73 1807.60 382.40 C1809.55 386.07 1812.15 389.77 1814.10 392.80 C1816.05 395.83 1817.78 398.12 1819.30 400.60 C1820.82 403.08 1822.55 406.52 1823.20 407.70 C1823.95 406.30 1826.73 402.22 1827.70 399.30 C1828.67 396.38 1828.88 393.23 1829.00 390.20 C1829.12 387.17 1828.50 382.62 1828.40 381.10 C1829.27 382.40 1831.45 386.08 1833.60 388.90 C1835.75 391.72 1837.85 394.65 1841.30 398.00 C1844.75 401.35 1852.13 407.17 1854.30 409.00 C1854.20 407.38 1854.57 402.43 1853.70 399.30 C1852.83 396.17 1850.95 393.23 1849.10 390.20 C1847.25 387.17 1844.55 383.68 1842.60 381.10 C1840.65 378.52 1838.27 375.77 1837.40 374.70 C1838.48 375.33 1841.52 377.60 1843.90 378.50 C1846.28 379.40 1848.78 379.98 1851.70 380.10 C1854.62 380.22 1859.78 379.35 1861.40 379.20 C1860.00 378.45 1855.70 376.53 1853.00 374.70 C1850.30 372.87 1848.00 370.58 1845.20 368.20 C1842.40 365.82 1839.22 362.88 1836.20 360.40 C1833.18 357.92 1830.35 355.35 1827.10 353.30 C1823.85 351.25 1820.48 349.30 1816.70 348.10 C1812.92 346.90 1806.45 346.43 1804.40 346.10 Z" fill="#f1c8c1"/>
</svg>
</body></html>
